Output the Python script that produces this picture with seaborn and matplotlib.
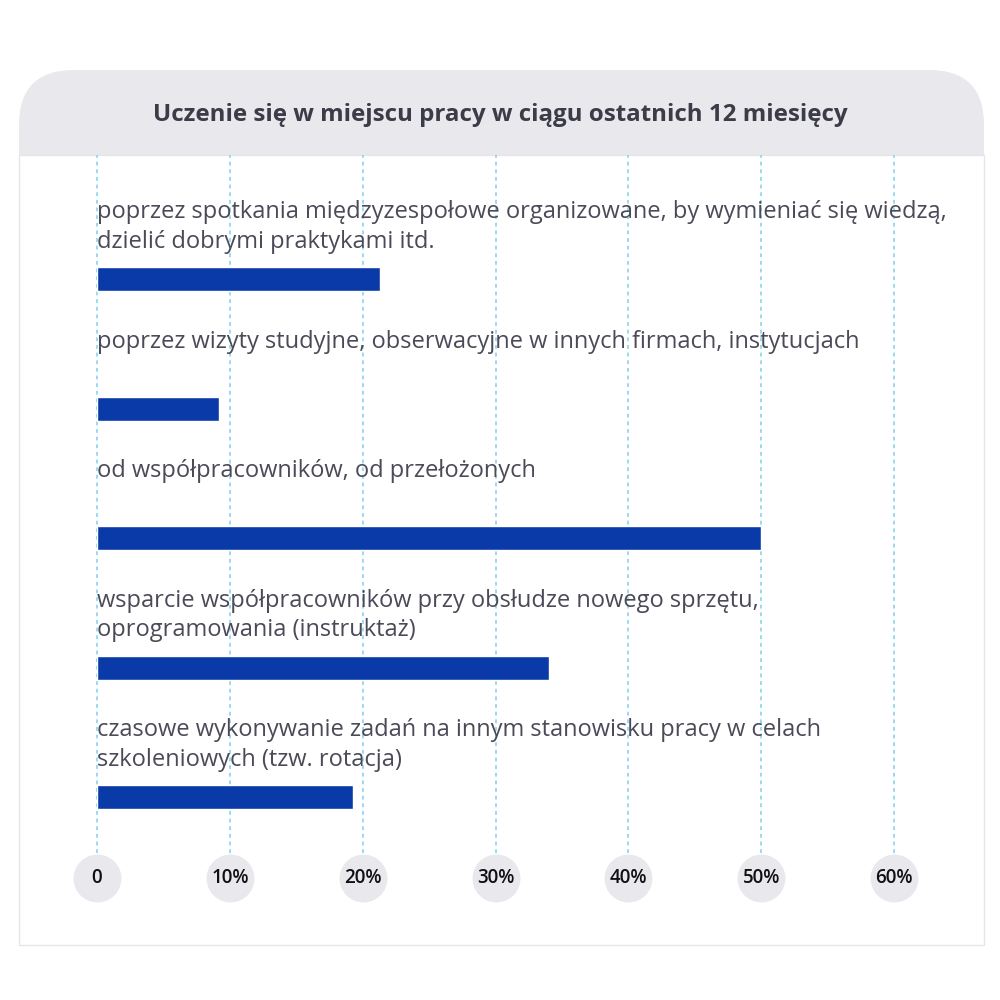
import matplotlib
matplotlib.use('Agg')
import matplotlib.pyplot as plt
from matplotlib.patches import FancyBboxPatch, Rectangle
import seaborn as sns
import pandas as pd

# Data
categories = [
    'poprzez spotkania międzyzespołowe organizowane, by wymieniać się wiedzą,\ndzielić dobrymi praktykami itd.',
    'poprzez wizyty studyjne, obserwacyjne w innych firmach, instytucjach',
    'od współpracowników, od przełożonych',
    'wsparcie współpracowników przy obsłudze nowego sprzętu,\noprogramowania (instruktaż)',
    'czasowe wykonywanie zadań na innym stanowisku pracy w celach\nszkoleniowych (tzw. rotacja)',
]
values = [21.3, 9.2, 50.0, 34.0, 19.3]
tick_values = [0, 10, 20, 30, 40, 50, 60]
tick_labels = ['0', '10%', '20%', '30%', '40%', '50%', '60%']
title = 'Uczenie się w miejscu pracy w ciągu ostatnich 12 miesięcy'

df = pd.DataFrame({'kategoria': categories, 'wartosc': values})

sns.set_style('white')
plt.rcParams['font.family'] = ['Open Sans', 'DejaVu Sans']

bar_color = '#0a3aa8'
grid_color = '#7fd0f0'
text_color = '#4a4a58'
title_color = '#3c3c48'
pill_color = '#e8e8ed'

fig = plt.figure(figsize=(10, 10), dpi=100)
fig.patch.set_facecolor('white')

# card: grey rounded header + white body with thin border
header = FancyBboxPatch((0.019, 0.70), 0.965, 0.23,
                        boxstyle='round,pad=0,rounding_size=0.055',
                        transform=fig.transFigure, facecolor=pill_color,
                        edgecolor='none', zorder=-2)
fig.add_artist(header)
body = Rectangle((0.019, 0.055), 0.965, 0.79, transform=fig.transFigure,
                 facecolor='white', edgecolor='#e6e6ea', linewidth=1, zorder=-1)
fig.add_artist(body)

fig.text(0.5, 0.885, title, ha='center', va='center', fontsize=17.4,
         fontweight='bold', color=title_color)

# plotting area: x 97..894 px, y 155..853 px
ax = fig.add_axes([0.097, 0.147, 0.797, 0.698])
ax.set_facecolor('none')
sns.barplot(data=df, x='wartosc', y='kategoria', orient='h', color=bar_color,
            width=0.185, saturation=1, ax=ax, zorder=3)
ax.set_xlim(0, 60)
ax.set_ylim(4.429, -0.961)
ax.set_xticks(tick_values)
ax.set_yticks([])
ax.set_xticklabels([])
ax.set_xlabel('')
ax.set_ylabel('')
ax.tick_params(axis='x', length=0)
for s in ax.spines.values():
    s.set_visible(False)
ax.xaxis.grid(True, linestyle=(0, (2.5, 2.5)), color=grid_color, linewidth=1.1)
ax.set_axisbelow(True)
for gl in ax.get_xgridlines():
    gl.set_clip_on(False)

# category labels above each bar
for i, lab in enumerate(categories):
    ax.text(0, i - 0.61, lab, ha='left', va='top', fontsize=17,
            color=text_color, linespacing=1.3)

# round tick "pills" below the plot
trans = ax.get_xaxis_transform()
ax.scatter(tick_values, [-0.036] * len(tick_values), s=1190, color=pill_color,
           transform=trans, clip_on=False, zorder=2, linewidths=0)
for v, lab in zip(tick_values, tick_labels):
    ax.text(v, -0.036, lab, transform=trans, ha='center', va='center',
            fontsize=13.5, fontweight='semibold', color='#111111', zorder=4)

fig.savefig('out.png', dpi=100, facecolor='white')
